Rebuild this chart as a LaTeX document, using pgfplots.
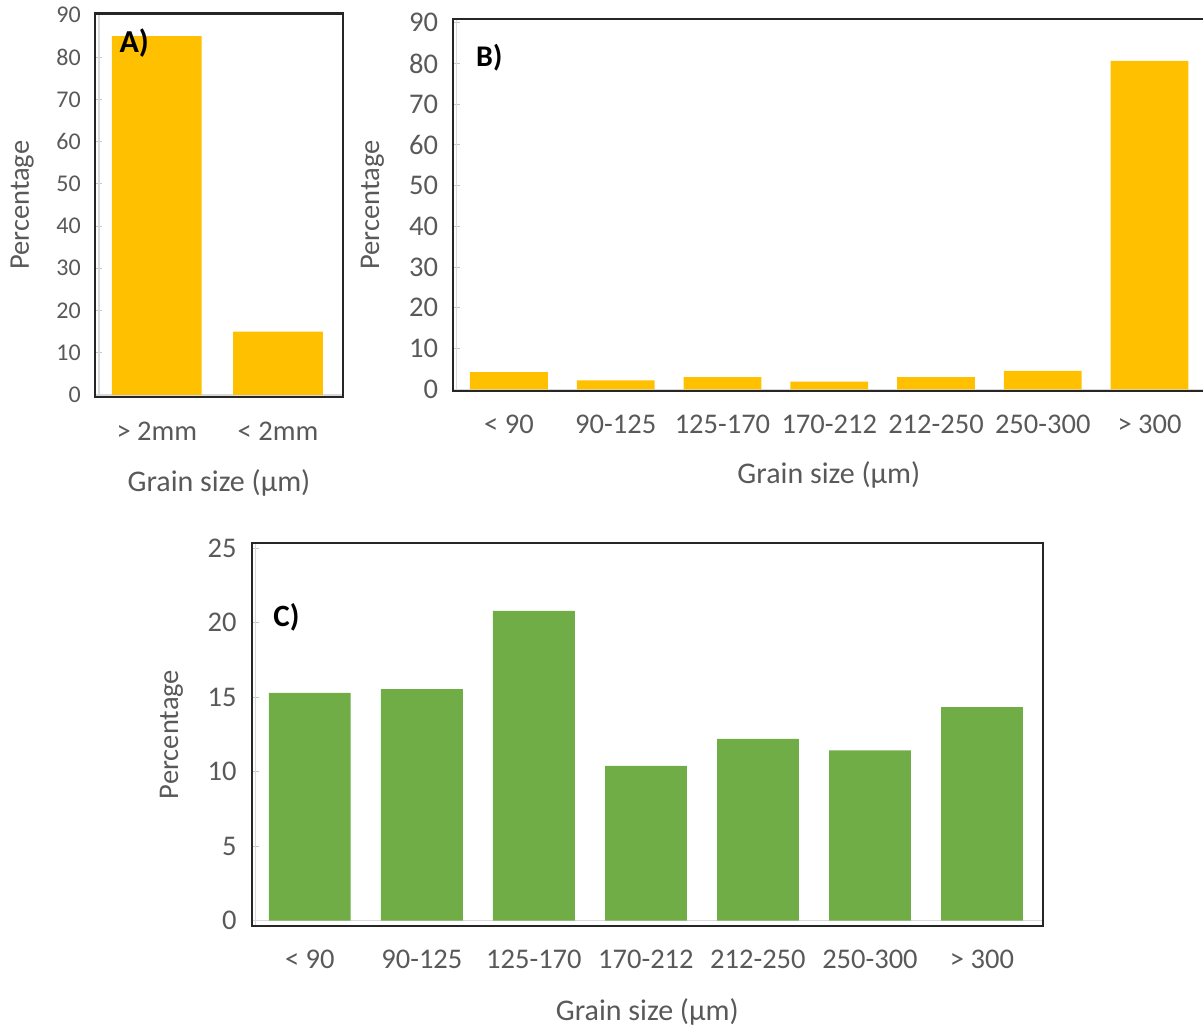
\documentclass[border=0pt]{standalone}
\usepackage{pgfplots}
\pgfplotsset{compat=1.18}
\usepackage{fontspec}
\setmainfont{Carlito}
\definecolor{txt}{HTML}{595959}
\definecolor{yel}{HTML}{FFC000}
\definecolor{grn}{HTML}{70AD47}
\definecolor{brd}{HTML}{262626}
\pgfplotsset{
  panel/.style={
    scale only axis,
    ybar,
    clip=false,
    axis line style={draw=brd, line width=2.2pt},
    tick align=inside,
    major tick length=7pt,
    ytick pos=left,
    ytick style={draw=gray!45, line width=1pt},
    xtick style={draw=none},
    xtick={0,...,6},
    /pgf/number format/assume math mode=true,
    ticklabel style={text=txt, font=\fontsize{28.5}{30}\selectfont},
    label style={text=txt},
    xlabel style={font=\fontsize{30}{32}\selectfont},
    ylabel style={font=\fontsize{28.5}{30}\selectfont},
    yticklabel style={anchor=east, inner sep=0pt},
    xticklabel style={anchor=center, inner sep=0pt},
    xlabel={Grain size (µm)},
    ylabel={Percentage},
  }
}
\begin{document}
\begin{tikzpicture}
\useasboundingbox (0,0) rectangle (1203pt,-1027pt);

% Panel A
\begin{axis}[panel,
  at={(95pt,-13.5pt)}, anchor=north west,
  width=248pt, height=383.5pt,
  xmin=-0.51, xmax=1.536, ymin=-0.5, ymax=90.35,
  bar width=0.74,
  ytick={0,10,...,90},
  xticklabels={{> 2mm},{< 2mm}},
  yticklabel style={font=\fontsize{24}{26}\selectfont, xshift=-14pt},
  xticklabel style={yshift=-34.2pt},
  xlabel style={at={(axis description cs:0.5,-0.2243)}, anchor=center},
  ylabel style={at={(axis description cs:-0.2935,0.5)}, anchor=center},
]
\draw[gray!30, line width=1.5pt] (axis cs:-0.51,0) -- (axis cs:1.536,0);
\draw[gray!30, line width=1.5pt] ([xshift=4pt]rel axis cs:0,0) -- ([xshift=4pt]rel axis cs:0,1);
\addplot[fill=yel, draw=none] coordinates {(0,85) (1,15)};
\draw[brd, line width=2.2pt] (rel axis cs:0,0) rectangle (rel axis cs:1,1);
\node[anchor=base west, inner sep=0pt, font=\bfseries\fontsize{32}{34}\selectfont] at (rel axis cs:0.098,0.8996) {A)};
\end{axis}

% Panel B
\begin{axis}[panel,
  at={(452.7pt,-19pt)}, anchor=north west,
  width=752.3pt, height=372pt,
  xmin=-0.527, xmax=6.52, ymin=-0.42, ymax=90.9,
  bar width=0.73,
  ytick={0,10,...,90},
  xticklabels={{< 90},{90-125},{125-170},{170-212},{212-250},{250-300},{> 300}},
  yticklabel style={xshift=-14.4pt},
  xticklabel style={yshift=-33.2pt},
  xlabel style={at={(axis description cs:0.5,-0.2258)}, anchor=center},
  ylabel style={at={(axis description cs:-0.1066,0.5)}, anchor=center},
]
\draw[gray!30, line width=1.5pt] (axis cs:-0.527,0) -- (axis cs:6.52,0);
\draw[gray!30, line width=1.5pt] ([xshift=4pt]rel axis cs:0,0) -- ([xshift=4pt]rel axis cs:0,1);
\addplot[fill=yel, draw=none] coordinates {(0,4.2) (1,2.2) (2,3.0) (3,1.9) (4,3.0) (5,4.5) (6,80.6)};
\draw[brd, line width=2.2pt] (rel axis cs:0,0) rectangle (rel axis cs:1,1);
\node[anchor=base west, inner sep=0pt, font=\bfseries\fontsize{30}{32}\selectfont] at (rel axis cs:0.031,0.8718) {B)};
\end{axis}

% Panel C
\begin{axis}[panel,
  at={(251.7pt,-543.3pt)}, anchor=north west,
  width=791.2pt, height=382.4pt,
  xmin=-0.519, xmax=6.544, ymin=-0.34, ymax=25.34,
  bar width=0.73,
  ytick={0,5,...,25},
  xticklabels={{< 90},{90-125},{125-170},{170-212},{212-250},{250-300},{> 300}},
  yticklabel style={xshift=-15pt},
  xticklabel style={yshift=-33.8pt},
  xlabel style={at={(axis description cs:0.5,-0.2265)}, anchor=center},
  ylabel style={at={(axis description cs:-0.1016,0.5)}, anchor=center},
]
\draw[gray!30, line width=1.5pt] (axis cs:-0.519,0) -- (axis cs:6.544,0);
\draw[gray!30, line width=1.5pt] ([xshift=4pt]rel axis cs:0,0) -- ([xshift=4pt]rel axis cs:0,1);
\addplot[fill=grn, draw=none] coordinates {(0,15.3) (1,15.55) (2,20.8) (3,10.4) (4,12.2) (5,11.43) (6,14.34)};
\draw[brd, line width=2.2pt] (rel axis cs:0,0) rectangle (rel axis cs:1,1);
\node[anchor=base west, inner sep=0pt, font=\bfseries\fontsize{31}{33}\selectfont] at (rel axis cs:0.0273,0.782) {C)};
\end{axis}
\end{tikzpicture}
\end{document}
